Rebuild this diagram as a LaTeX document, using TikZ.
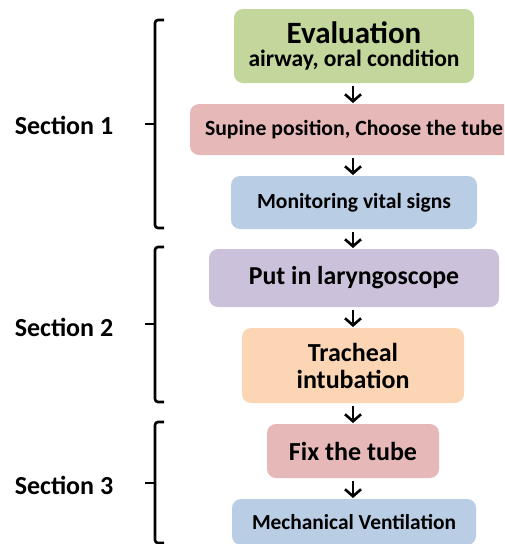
\documentclass[tikz,border=0pt]{standalone}
\usepackage{fontspec}
\setmainfont{Carlito}
\usetikzlibrary{arrows.meta}
\definecolor{cgreen}{HTML}{C3D69B}
\definecolor{cpink}{HTML}{E6B9B8}
\definecolor{cblue}{HTML}{B9CDE5}
\definecolor{clav}{HTML}{CCC1DA}
\definecolor{cpeach}{HTML}{FCD5B5}
\tikzset{
  box/.style={rounded corners=9pt, inner sep=0pt, align=center, font=\bfseries},
  conn/.style={line width=2.6pt, arrows={-Straight Barb[length=7pt,width=16pt,line width=2.6pt]}, shorten <=3pt},
  brk/.style={line width=2.6pt, rounded corners=3pt},
  tick/.style={line width=2.6pt},
  sec/.style={font=\bfseries\fontsize{26}{28}\selectfont, anchor=center}
}
\begin{document}
\begin{tikzpicture}[x=1pt,y=-1pt]
\useasboundingbox (0,0) rectangle (504,544);
\clip (0,0) rectangle (504,544);
\node[box, fill=cgreen, minimum width=240pt, minimum height=74pt, font=\bfseries\fontsize{23.5}{23}\selectfont] (eval) at (354,46)
  {{\fontsize{31}{31}\selectfont Evaluation}\\airway, oral condition};
\node[box, fill=cpink, minimum width=328pt, minimum height=51pt, font=\bfseries\fontsize{21.7}{24}\selectfont] (sup) at (354,129.5) {Supine position, Choose the tube};
\node[box, fill=cblue, minimum width=246pt, minimum height=53pt, font=\bfseries\fontsize{21.6}{24}\selectfont] (mon) at (354,202.5) {Monitoring vital signs};
\node[box, fill=clav, minimum width=290pt, minimum height=58pt, font=\bfseries\fontsize{25.8}{28}\selectfont] (put) at (354,278) {Put in laryngoscope};
\node[box, fill=cpeach, minimum width=222pt, minimum height=75pt, font=\bfseries\fontsize{26}{27}\selectfont] (tra) at (353,365.5) {Tracheal\\intubation};
\node[box, fill=cpink, minimum width=172pt, minimum height=54pt, font=\bfseries\fontsize{26}{28}\selectfont] (fix) at (353,451) {Fix the tube};
\node[box, fill=cblue, minimum width=244pt, minimum height=46pt, font=\bfseries\fontsize{21.4}{24}\selectfont] (mech) at (354,522) {Mechanical Ventilation};

\coordinate (a1) at (353,83); \coordinate (b1) at (353,103);
\coordinate (a2) at (353,155); \coordinate (b2) at (353,175);
\coordinate (a3) at (353,229); \coordinate (b3) at (353,248);
\coordinate (a4) at (353,307); \coordinate (b4) at (353,327);
\coordinate (a5) at (353,403); \coordinate (b5) at (353,423);
\coordinate (a6) at (353,478); \coordinate (b6) at (353,498);
\draw[conn] (a1) -- (b1);
\draw[conn] (a2) -- (b2);
\draw[conn] (a3) -- (b3);
\draw[conn] (a4) -- (b4);
\draw[conn] (a5) -- (b5);
\draw[conn] (a6) -- (b6);

\node[sec] (s1) at (64,125) {Section 1};
\node[sec] (s2) at (64,327) {Section 2};
\node[sec] (s3) at (64,485) {Section 3};

\draw[brk] (164,20) -- (155,20) -- (155,228) -- (164,228);
\draw[tick] (145,124) -- (155,124);
\draw[brk] (164,247) -- (155,247) -- (155,402) -- (164,402);
\draw[tick] (145,324) -- (155,324);
\draw[brk] (164,422) -- (155,422) -- (155,543) -- (164,543);
\draw[tick] (145,483) -- (155,483);
\end{tikzpicture}
\end{document}
